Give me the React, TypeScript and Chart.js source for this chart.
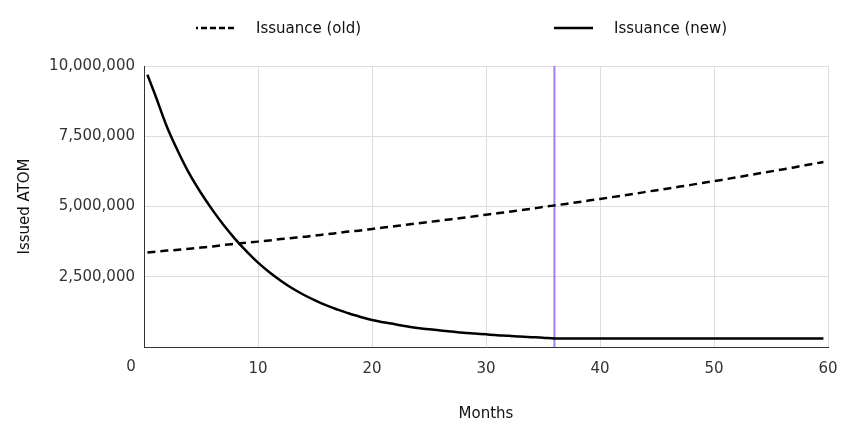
import React, { useEffect, useRef } from 'react';
import { Chart, registerables } from 'chart.js';

Chart.register(...registerables);

// ---- data (values in millions of ATOM) ----
const months = [
  0.3, 1, 2, 3, 4, 5, 6, 7, 8, 9, 10, 11, 12, 13, 14, 15, 16, 17, 18, 19, 20,
  21, 22, 23, 24, 25, 26, 27, 28, 29, 30, 31, 32, 33, 34, 35, 36, 37, 38, 39, 40,
  41, 42, 43, 44, 45, 46, 47, 48, 49, 50, 51, 52, 53, 54, 55, 56, 57, 58, 59, 59.6,
];

const issuanceOld = [
  3.36, 3.39, 3.43, 3.46, 3.5, 3.54, 3.58, 3.63, 3.67, 3.71, 3.75, 3.79, 3.84, 3.88, 3.92, 3.97, 4.01, 4.06, 4.11, 4.15, 4.2,
  4.25, 4.3, 4.35, 4.4, 4.45, 4.5, 4.55, 4.6, 4.65, 4.71, 4.76, 4.81, 4.87, 4.92, 4.98, 5.04, 5.09, 5.15, 5.21, 5.27,
  5.33, 5.39, 5.45, 5.52, 5.58, 5.64, 5.71, 5.77, 5.84, 5.9, 5.97, 6.04, 6.11, 6.18, 6.25, 6.32, 6.39, 6.47, 6.54, 6.58,
];

const issuanceNew = [
  9.69, 8.95, 7.85, 6.95, 6.15, 5.48, 4.88, 4.33, 3.84, 3.4, 3.0, 2.66, 2.36, 2.09, 1.86, 1.66, 1.48, 1.33, 1.19, 1.07, 0.96,
  0.88, 0.81, 0.74, 0.68, 0.63, 0.59, 0.55, 0.51, 0.48, 0.45, 0.42, 0.4, 0.37, 0.35, 0.33, 0.3, 0.3, 0.3, 0.3, 0.3,
  0.3, 0.3, 0.3, 0.3, 0.3, 0.3, 0.3, 0.3, 0.3, 0.3, 0.3, 0.3, 0.3, 0.3, 0.3, 0.3, 0.3, 0.3, 0.3, 0.3,
];

const seriesLabels = ['Issuance (old)', 'Issuance (new)'];
const markerMonth = 36;
const markerRange = [0, 10];

const xTickValues = [0, 10, 20, 30, 40, 50, 60];
const xTickLabels = ['0', '10', '20', '30', '40', '50', '60'];
const yTickValues = [0, 2.5, 5, 7.5, 10];
const yTickLabels = ['', '2,500,000', '5,000,000', '7,500,000', '10,000,000'];

const FONT = '"DejaVu Sans", sans-serif';
const TICK_COLOR = '#333333';
const TEXT_COLOR = '#111111';
const PURPLE = '#a47cf3';
const X_TICK_PAD = 13;

export default function App() {
  const ref = useRef<HTMLCanvasElement>(null);

  useEffect(() => {
    if (!ref.current) return;
    Chart.defaults.font.family = FONT;

    const zeroLabel = {
      id: 'zeroLabel',
      afterDraw(chart: any) {
        const xs = chart.scales.x;
        const ctx = chart.ctx;
        ctx.save();
        ctx.font = '15px ' + FONT;
        ctx.fillStyle = TICK_COLOR;
        ctx.textAlign = 'center';
        ctx.textBaseline = 'top';
        ctx.fillText(xTickLabels[0], xs.getPixelForValue(xTickValues[0]) - 13, xs.top + X_TICK_PAD);
        ctx.restore();
      },
    };

    const chart = new Chart(ref.current, {
      type: 'line',
      data: {
        datasets: [
          {
            label: seriesLabels[0],
            data: months.map((m, i) => ({ x: m, y: issuanceOld[i] })),
            borderColor: '#000000',
            borderWidth: 2.5,
            borderDash: [8, 5],
            pointRadius: 0,
            cubicInterpolationMode: 'monotone',
            order: 1,
          },
          {
            label: seriesLabels[1],
            data: months.map((m, i) => ({ x: m, y: issuanceNew[i] })),
            borderColor: '#000000',
            borderWidth: 2.5,
            pointRadius: 0,
            cubicInterpolationMode: 'monotone',
            order: 0,
          },
          {
            label: 'marker',
            data: markerRange.map((v) => ({ x: markerMonth, y: v })),
            borderColor: PURPLE,
            borderWidth: 2,
            pointRadius: 0,
            order: 2,
          },
        ],
      },
      options: {
        animation: false,
        responsive: true,
        maintainAspectRatio: false,
        layout: { padding: { top: 58, right: 26, left: 0, bottom: 0 } },
        plugins: {
          legend: { display: false },
          tooltip: { enabled: false },
        },
        scales: {
          x: {
            type: 'linear',
            min: 0,
            max: 60,
            afterBuildTicks: (s: any) => {
              s.ticks = xTickValues.map((v) => ({ value: v }));
            },
            afterFit: (s: any) => {
              s.height = 92;
            },
            ticks: {
              autoSkip: false,
              maxRotation: 0,
              padding: X_TICK_PAD,
              color: TICK_COLOR,
              font: { size: 15, family: FONT },
              callback: (_v: any, i: number) => (i === 0 ? '' : xTickLabels[i]),
            },
            grid: { color: '#dddddd', drawTicks: false, lineWidth: 1 },
            border: { color: '#333333', width: 1 },
            title: {
              display: true,
              text: 'Months',
              color: TEXT_COLOR,
              font: { size: 15, family: FONT },
              padding: { top: 0, bottom: 16 },
            },
          },
          y: {
            type: 'linear',
            min: 0,
            max: 10,
            afterBuildTicks: (s: any) => {
              s.ticks = yTickValues.map((v) => ({ value: v }));
            },
            afterFit: (s: any) => {
              s.width = 136;
            },
            ticks: {
              padding: 9,
              color: TICK_COLOR,
              font: { size: 15, family: FONT },
              callback: (_v: any, i: number) => yTickLabels[i],
            },
            grid: { color: '#dddddd', drawTicks: false, lineWidth: 1 },
            border: { color: '#333333', width: 1 },
            title: {
              display: true,
              text: 'Issued ATOM',
              color: TEXT_COLOR,
              font: { size: 15, family: FONT },
              padding: { top: 8, bottom: 0 },
            },
          },
        },
      },
      plugins: [zeroLabel],
    });
    return () => chart.destroy();
  }, []);

  const legendText: React.CSSProperties = {
    position: 'absolute',
    top: 11,
    font: '15px ' + FONT,
    lineHeight: '18px',
    color: TEXT_COLOR,
    whiteSpace: 'nowrap',
  };

  return (
    <div style={{ position: 'relative', width: 846, height: 431 }}>
      <canvas ref={ref} />
      <svg style={{ position: 'absolute', left: 188, top: 15 }} width={40} height={10}>
        <line x1={0} y1={5} x2={40} y2={5} stroke="#000" strokeWidth={2.5} strokeDasharray="6 3" strokeDashoffset={4} />
      </svg>
      <div style={{ ...legendText, left: 248 }}>{seriesLabels[0]}</div>
      <svg style={{ position: 'absolute', left: 546, top: 15 }} width={40} height={10}>
        <line x1={0} y1={5} x2={39} y2={5} stroke="#000" strokeWidth={2.5} />
      </svg>
      <div style={{ ...legendText, left: 606 }}>{seriesLabels[1]}</div>
    </div>
  );
}
